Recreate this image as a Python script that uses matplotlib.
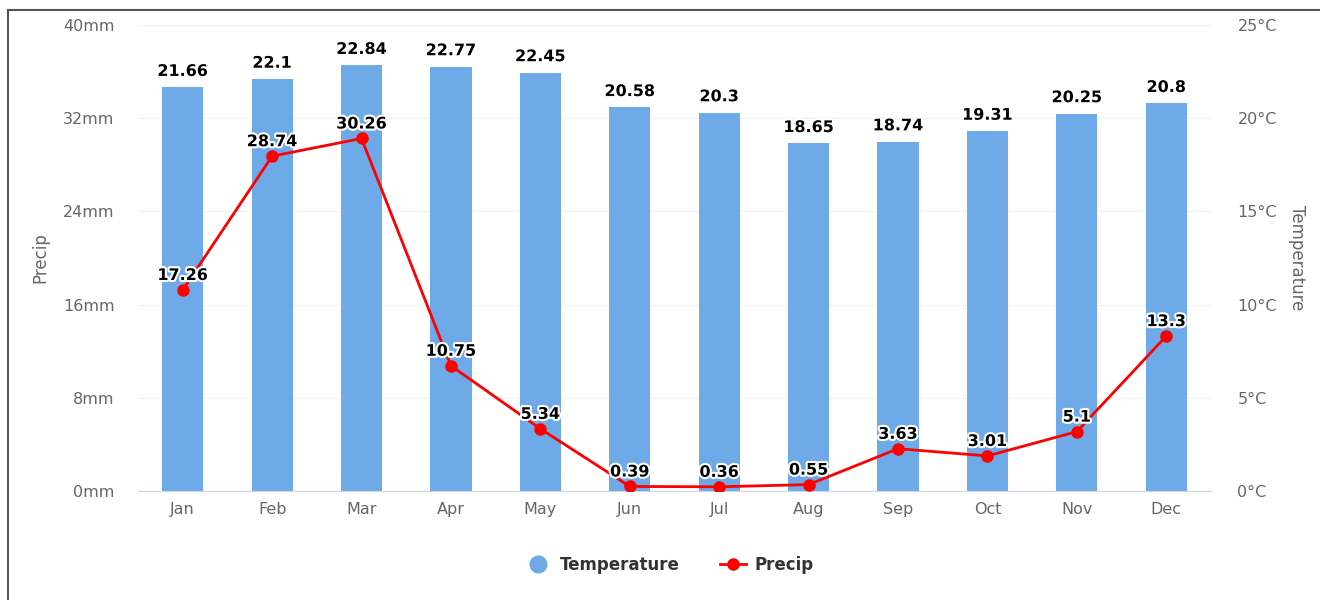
import matplotlib
matplotlib.use("Agg")
import matplotlib.pyplot as plt
from matplotlib.lines import Line2D
import matplotlib.patheffects as pe
import numpy as np

months = ["Jan", "Feb", "Mar", "Apr", "May", "Jun", "Jul", "Aug", "Sep", "Oct", "Nov", "Dec"]
temperature = [21.66, 22.1, 22.84, 22.77, 22.45, 20.58, 20.3, 18.65, 18.74, 19.31, 20.25, 20.8]
precip = [17.26, 28.74, 30.26, 10.75, 5.34, 0.39, 0.36, 0.55, 3.63, 3.01, 5.1, 13.3]
precip_ticks = [0, 8, 16, 24, 32, 40]
temp_ticks = [0, 5, 10, 15, 20, 25]

plt.rcParams['font.family'] = ['DejaVu Sans']
BAR = "#6eaae8"
RED = "#ff0000"
TICK = "#666666"

fig = plt.figure(figsize=(13.2, 6), dpi=100)
axL = fig.add_axes([138/1320, 1-491/600, (1211-138)/1320, (491-25)/600])
axR = axL.twinx()

x = np.arange(len(months))
axL.set_zorder(2)
axL.patch.set_visible(False)
axR.set_zorder(1)

axR.bar(x, temperature, width=0.46, color=BAR, zorder=2)
axR.set_ylim(0, 25)
axR.set_yticks(temp_ticks)
axR.set_yticklabels([f"{t}°C" for t in temp_ticks])

axL.plot(x, precip, color=RED, lw=2, marker='o', ms=8, zorder=3)
axL.set_ylim(0, 40)
axL.set_xlim(-0.5, 11.5)
axL.set_yticks(precip_ticks)
axL.set_yticklabels([f"{p}mm" for p in precip_ticks])
axL.set_xticks(x)
axL.set_xticklabels(months)

outline = [pe.withStroke(linewidth=3, foreground="white")]
for xi, t in zip(x, temperature):
    axR.annotate(f"{t:g}", (xi, t), xytext=(0, 6), textcoords="offset points",
                 ha="center", va="bottom", fontsize=11.5, fontweight="bold",
                 color="black", path_effects=outline, zorder=5)
for xi, p in zip(x, precip):
    axL.annotate(f"{p:g}", (xi, p), xytext=(0, 5), textcoords="offset points",
                 ha="center", va="bottom", fontsize=11.5, fontweight="bold",
                 color="black", path_effects=outline, zorder=5)

for ax in (axL, axR):
    for s in ax.spines.values():
        s.set_visible(False)
    ax.tick_params(length=0, colors=TICK, labelsize=11.5)
axL.tick_params(axis='y', pad=17)
axR.tick_params(axis='y', pad=19)
axL.tick_params(axis='x', pad=8)
axL.spines['bottom'].set_visible(True)
axL.spines['bottom'].set_color("#ccd6eb")
axR.grid(axis='y', color="#f2f2f2", lw=1, zorder=0)
axR.set_axisbelow(True)

fig.text(40/1320, 1-258/600, "Precip", color=TICK, fontsize=12, rotation=90, ha="center", va="center")
fig.text(1297/1320, 1-258/600, "Temperature", color=TICK, fontsize=12, rotation=270, ha="center", va="center")

handles = [
    Line2D([], [], marker='o', color='none', markerfacecolor=BAR, markeredgecolor=BAR, ms=12, label="Temperature"),
    Line2D([], [], color=RED, lw=2, marker='o', ms=8, label="Precip"),
]
leg = fig.legend(handles=handles, loc="center", bbox_to_anchor=(0.507, 1-565/600), ncol=2,
                 frameon=False, prop={'weight': 'bold', 'size': 12}, handlelength=1.6,
                 columnspacing=2.4, handletextpad=0.5)
for t in leg.get_texts():
    t.set_color("#333333")

fig.add_artist(Line2D([8/1320, 8/1320], [0, 1-10/600], color="#555555", lw=1.5, transform=fig.transFigure))
fig.add_artist(Line2D([8/1320, 1], [1-10/600, 1-10/600], color="#555555", lw=1.5, transform=fig.transFigure))

fig.savefig("out.png", dpi=100, facecolor="white")
